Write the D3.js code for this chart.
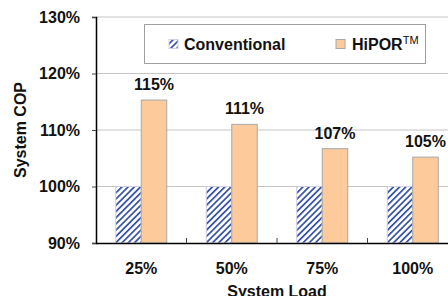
<!DOCTYPE html>
<html>
<head>
<meta charset="utf-8">
<script src="https://cdn.jsdelivr.net/npm/d3@7"></script>
<style>
  body { margin: 0; background: #fff; }
  svg { display: block; font-family: "Liberation Sans", Arial, sans-serif; font-weight: bold; }
</style>
</head>
<body>
<svg id="chart"></svg>
<script>
const loads = ['25%', '50%', '75%', '100%'];
const series = ['Conventional', 'HiPOR'];
const conventional = [1.00, 1.00, 1.00, 1.00];
const hipor = [1.153, 1.110, 1.067, 1.052];
const hiporLabels = ['115%', '111%', '107%', '105%'];
const yTicks = [0.9, 1.0, 1.1, 1.2, 1.3];

const width = 448, height = 296;
const plot = { left: 96, top: 17, right: 458, bottom: 243 };
const fontSize = 16;

const svg = d3.select('#chart')
    .attr('width', width)
    .attr('height', height);

const defs = svg.append('defs');
defs.append('pattern')
    .attr('id', 'hatch')
    .attr('patternUnits', 'userSpaceOnUse')
    .attr('width', 4.4)
    .attr('height', 4.4)
    .attr('patternTransform', 'rotate(45)')
    .call(p => {
        p.append('rect').attr('width', 4.4).attr('height', 4.4).attr('fill', '#fff');
        p.append('rect').attr('width', 1.7).attr('height', 4.4).attr('fill', '#3350a4');
    });

const x0 = d3.scaleBand()
    .domain(loads)
    .range([plot.left, plot.right]);

const groupW = 51;
const x1 = d3.scaleBand()
    .domain(series)
    .range([(x0.bandwidth() - groupW) / 2, (x0.bandwidth() + groupW) / 2]);

const y = d3.scaleLinear()
    .domain([0.9, 1.3])
    .range([plot.bottom, plot.top]);

// gridlines
svg.append('g')
    .selectAll('line')
    .data(yTicks.filter(t => t > 0.9))
    .join('line')
    .attr('x1', plot.left)
    .attr('x2', plot.right)
    .attr('y1', d => y(d))
    .attr('y2', d => y(d))
    .attr('stroke', '#c4c4c4')
    .attr('stroke-width', 1);

const rows = loads.map((l, i) => ({ load: l, Conventional: conventional[i], HiPOR: hipor[i], label: hiporLabels[i] }));

const groups = svg.append('g')
    .selectAll('g')
    .data(rows)
    .join('g')
    .attr('transform', d => `translate(${x0(d.load)},0)`);

groups.selectAll('rect')
    .data(d => series.map(s => ({ key: s, value: d[s] })))
    .join('rect')
    .attr('x', d => x1(d.key))
    .attr('y', d => y(d.value))
    .attr('width', x1.bandwidth())
    .attr('height', d => y(0.9) - y(d.value))
    .attr('fill', d => d.key === 'HiPOR' ? '#fdca9c' : 'url(#hatch)')
    .attr('stroke', d => d.key === 'HiPOR' ? '#a8a8a8' : '#d0d0e0')
    .attr('stroke-width', 1);

groups.append('text')
    .attr('x', x1('HiPOR') + x1.bandwidth() / 2)
    .attr('y', d => y(d.HiPOR) - 10)
    .attr('text-anchor', 'middle')
    .attr('font-size', fontSize)
    .attr('fill', '#111')
    .text(d => d.label);

// axes
const yAxis = d3.axisLeft(y)
    .tickValues(yTicks)
    .tickFormat(d3.format('.0%'))
    .tickSize(4)
    .tickPadding(12);

svg.append('g')
    .attr('transform', `translate(${plot.left},0)`)
    .call(yAxis)
    .call(g => g.select('.domain').attr('stroke', '#000').attr('stroke-width', 1.5))
    .call(g => g.selectAll('.tick line').attr('stroke', '#444'))
    .call(g => g.selectAll('.tick text')
        .attr('font-size', fontSize)
        .attr('font-family', '"Liberation Sans", Arial, sans-serif')
        .attr('font-weight', 'bold')
        .attr('fill', '#111'));

const xAxis = d3.axisBottom(x0)
    .tickSize(0)
    .tickPadding(20);

svg.append('g')
    .attr('transform', `translate(0,${plot.bottom})`)
    .call(xAxis)
    .call(g => g.select('.domain').attr('stroke', '#000').attr('stroke-width', 1.5))
    .call(g => g.selectAll('.tick text')
        .attr('font-size', fontSize)
        .attr('font-family', '"Liberation Sans", Arial, sans-serif')
        .attr('font-weight', 'bold')
        .attr('fill', '#111'));

// small inward ticks between groups
svg.append('g')
    .selectAll('line')
    .data(loads.slice(1))
    .join('line')
    .attr('x1', d => x0(d))
    .attr('x2', d => x0(d))
    .attr('y1', plot.bottom)
    .attr('y2', plot.bottom - 5)
    .attr('stroke', '#444');

// axis titles
svg.append('text')
    .attr('transform', `translate(26,${(plot.top + plot.bottom) / 2}) rotate(-90)`)
    .attr('text-anchor', 'middle')
    .attr('font-size', fontSize)
    .attr('fill', '#111')
    .text('System COP');

svg.append('text')
    .attr('x', (plot.left + plot.right) / 2)
    .attr('y', 297)
    .attr('text-anchor', 'middle')
    .attr('font-size', fontSize)
    .attr('fill', '#111')
    .text('System Load');

// legend
const legend = svg.append('g');
legend.append('rect')
    .attr('x', 144.5)
    .attr('y', 24.5)
    .attr('width', 281)
    .attr('height', 39)
    .attr('fill', '#fff')
    .attr('stroke', '#a0a0a0');

const legendItems = [
    { key: 'Conventional', sx: 169, tx: 184 },
    { key: 'HiPOR', sx: 336, tx: 352 }
];
legendItems.forEach(it => {
    legend.append('rect')
        .attr('x', it.sx)
        .attr('y', 39.5)
        .attr('width', 9)
        .attr('height', 9)
        .attr('fill', it.key === 'HiPOR' ? '#fdca9c' : 'url(#hatch)')
        .attr('stroke', it.key === 'HiPOR' ? '#a8a8a8' : '#d0d0e0');
    const t = legend.append('text')
        .attr('x', it.tx)
        .attr('y', 50)
        .attr('font-size', fontSize)
        .attr('fill', '#111')
        .text(it.key);
    if (it.key === 'HiPOR') {
        t.append('tspan')
            .attr('dy', -6)
            .attr('font-size', 11)
            .attr('font-weight', 'normal')
            .text('TM');
    }
});
</script>
</body>
</html>
